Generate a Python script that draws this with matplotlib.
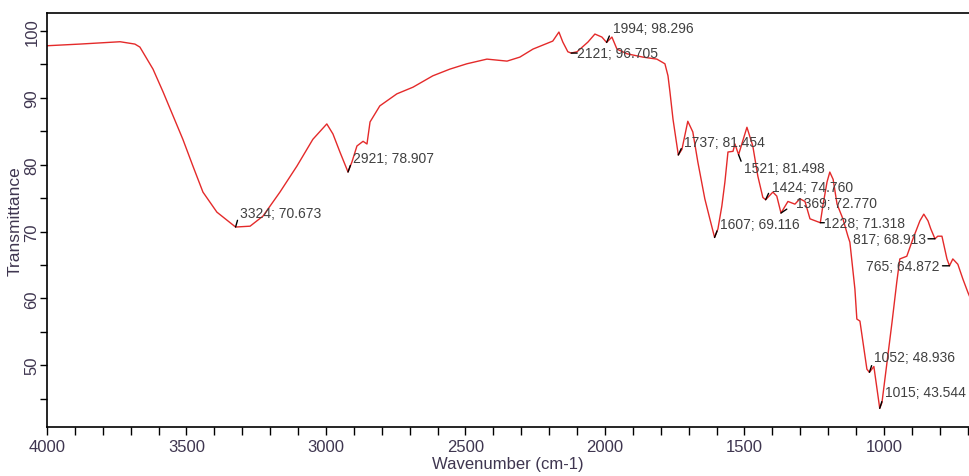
import numpy as np
import matplotlib.pyplot as plt
from matplotlib.ticker import MultipleLocator

plt.rcParams['font.family'] = ['Liberation Sans', 'DejaVu Sans']

# FTIR spectrum (wavenumber in cm-1, transmittance in %)
wavenumber = [
    4000, 3882, 3738, 3685, 3667, 3620, 3584, 3548, 3513, 3477,
    3441, 3391, 3324, 3272, 3226, 3165, 3104, 3047, 2997, 2975,
    2950, 2921, 2907, 2889, 2867, 2853, 2842, 2807, 2746, 2688,
    2617, 2556, 2495, 2423, 2351, 2305, 2258, 2187, 2165, 2151,
    2133, 2121, 2100, 2061, 2036, 2011, 1994, 1975, 1957, 1921,
    1864, 1814, 1785, 1774, 1767, 1756, 1737, 1724, 1703, 1685,
    1667, 1642, 1624, 1607, 1595, 1581, 1570, 1559, 1541, 1534,
    1521, 1491, 1470, 1452, 1434, 1424, 1398, 1384, 1369, 1344,
    1319, 1301, 1283, 1265, 1228, 1219, 1204, 1194, 1182, 1168,
    1147, 1129, 1122, 1104, 1097, 1086, 1061, 1052, 1036, 1015,
    1007, 989, 971, 954, 943, 918, 896, 871, 857, 842,
    832, 817, 807, 792, 774, 765, 753, 735, 717, 699,
    690,
]
transmittance = [
    97.8, 98.05, 98.4, 98.05, 97.6, 94.3, 90.9, 87.3, 83.8, 79.8,
    75.9, 72.9, 70.673, 70.8, 72.3, 75.9, 79.8, 83.8, 86.1, 84.6,
    81.9, 78.907, 80.4, 82.8, 83.5, 83.1, 86.4, 88.8, 90.6, 91.6,
    93.3, 94.3, 95.1, 95.8, 95.5, 96.1, 97.3, 98.5, 99.85, 98.35,
    96.9, 96.705, 96.9, 98.35, 99.55, 99.1, 98.296, 99.1, 97.3, 96.6,
    96.1, 95.8, 95.1, 93.3, 90.9, 86.8, 81.454, 82.3, 86.5, 84.9,
    80.4, 74.9, 71.9, 69.116, 70.4, 73.8, 77.4, 81.9, 82.0, 83.1,
    81.498, 85.6, 82.8, 78.3, 75.1, 74.760, 75.9, 75.3, 72.770, 74.5,
    74.1, 74.9, 74.5, 71.9, 71.318, 73.8, 77.4, 78.9, 77.8, 74.1,
    71.9, 69.3, 68.4, 61.4, 56.9, 56.6, 49.4, 48.936, 49.8, 43.544,
    44.4, 50.4, 56.4, 62.4, 65.9, 66.3, 68.9, 71.6, 72.6, 71.6,
    70.4, 68.913, 69.3, 69.3, 65.9, 64.872, 65.9, 65.1, 62.9, 60.9,
    60.0,
]

# picked peaks and where their labels sit (offset in pixels from the peak)
peak_wn = [3324, 2921, 1994, 2121, 1737, 1521, 1424, 1369, 1607, 1228, 817, 765, 1052, 1015]
peak_t = [70.673, 78.907, 98.296, 96.705, 81.454, 81.498, 74.760, 72.770, 69.116, 71.318,
          68.913, 64.872, 48.936, 43.544]
peak_dx = [4, 5, 6, 6, 6, 5, 6, 15, 5, 4, -9, -10, 5, 5]
peak_dy = [14, 14, 14, 0, 13, -13, 13, 10, 13, 0, 0, 0, 15, 16]
peak_ha = ['left'] * 10 + ['right', 'right'] + ['left', 'left']

fig = plt.figure(figsize=(9.69, 4.77), dpi=100)
ax = fig.add_axes([47 / 969, 1 - 428 / 477, 1 - 47 / 969, (428 - 14) / 477])

ax.plot(wavenumber, transmittance, color='#e42a2a', lw=1.0)

for wn, t, dx, dy, ha in zip(peak_wn, peak_t, peak_dx, peak_dy, peak_ha):
    ax.annotate(f"{wn}; {t:.3f}", xy=(wn, t), xytext=(dx, dy), textcoords='offset pixels',
                ha=ha, va='center', fontsize=10, color='#404040')
    # short black leader from the peak towards its label
    d = np.hypot(dx, dy)
    k = min(1.0, 7 / d)
    ax.annotate('', xy=(wn, t), xytext=(dx * k, dy * k), textcoords='offset pixels',
                arrowprops=dict(arrowstyle='-', color='black', lw=1.0, shrinkA=0, shrinkB=0))

ax.set_xlim(4000, 695)
ax.set_ylim(40.75, 102.7)

ax.xaxis.set_major_locator(MultipleLocator(500))
ax.xaxis.set_minor_locator(MultipleLocator(100))
ax.yaxis.set_major_locator(MultipleLocator(10))
ax.yaxis.set_minor_locator(MultipleLocator(5))

tick_color = '#3f3650'
ax.tick_params(axis='x', which='both', length=6, width=1.0, pad=3, labelsize=12, labelcolor=tick_color)
ax.tick_params(axis='y', which='both', length=5, width=1.0, pad=0.5, labelsize=12, labelcolor=tick_color)
for lab in ax.get_yticklabels():
    lab.set_rotation(90)
    lab.set_va('center')

ax.spines['right'].set_visible(False)
for s in ['top', 'left', 'bottom']:
    ax.spines[s].set_linewidth(1.2)

ax.set_xlabel("Wavenumber (cm-1)", fontsize=12, color='#3f3650', labelpad=1)
ax.set_ylabel("Transmittance", fontsize=12.5, color='#3f3650', labelpad=1)

fig.savefig('out.png', dpi=100)
